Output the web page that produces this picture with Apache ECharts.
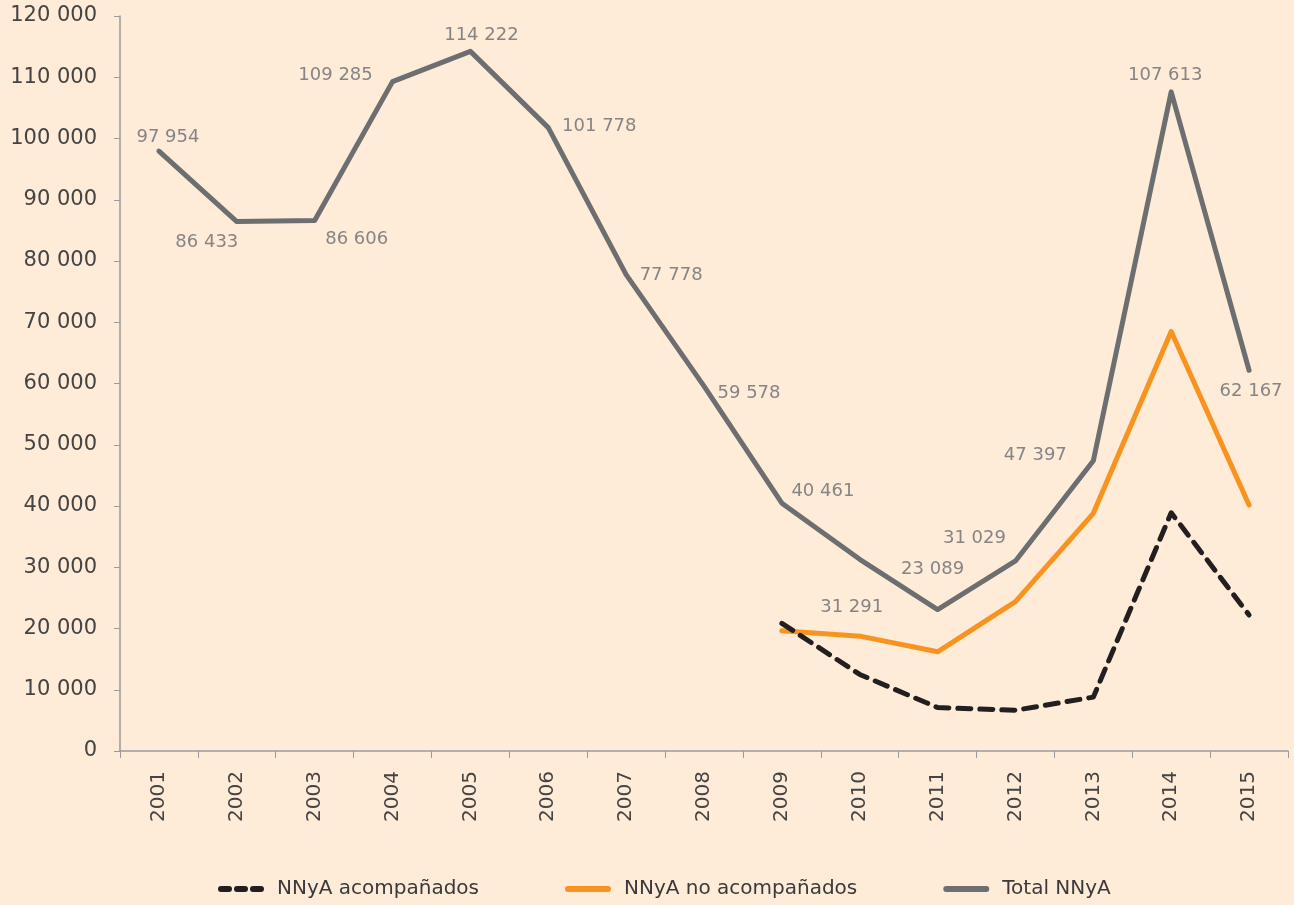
<!DOCTYPE html>
<html>
<head>
<meta charset="utf-8">
<script src="https://cdn.jsdelivr.net/npm/echarts@6/dist/echarts.min.js"></script>
<style>
  html, body { margin: 0; padding: 0; background: #FEEBD8; }
  #chart { width: 1294px; height: 905px; }
</style>
</head>
<body>
<div id="chart"></div>
<script>
  // años
  var years = ['2001','2002','2003','2004','2005','2006','2007','2008','2009','2010','2011','2012','2013','2014','2015'];
  // series
  var acompanados   = [null,null,null,null,null,null,null,null, 20850, 12500, 7100, 6650, 8800, 38900, 22200];
  var noAcompanados = [null,null,null,null,null,null,null,null, 19650, 18750, 16200, 24400, 38800, 68500, 40150];
  var total = [97954, 86433, 86606, 109285, 114222, 101778, 77778, 59578, 40461, 31291, 23089, 31029, 47397, 107613, 62167];
  var yTicks = [0, 120000, 10000]; // min, max, interval

  // desplazamiento de las etiquetas del total (dx, dy)
  var labelOffset = [
    [9, 4], [-30, 38], [42, 36], [-57, 11], [11, 1], [51, 16], [45, 18], [45, 25],
    [41, 6], [-8, 65], [-5, -23], [-41, -5], [-58, 12], [-6, 1], [2, 39]
  ];

  function fmt(v) {
    return String(v).replace(/\B(?=(\d{3})+(?!\d))/g, ' ');
  }

  var dashIcon = 'path://M3,0 h8 a3,3 0 0 1 0,6 h-8 a3,3 0 0 1 0,-6 z M19,0 h8 a3,3 0 0 1 0,6 h-8 a3,3 0 0 1 0,-6 z M35,0 h8 a3,3 0 0 1 0,6 h-8 a3,3 0 0 1 0,-6 z';
  var barIcon = 'path://M3,0 h40 a3,3 0 0 1 0,6 h-40 a3,3 0 0 1 0,-6 z';

  var chart = echarts.init(document.getElementById('chart'));
  var font = 'DejaVu Sans';
  var option = {
    backgroundColor: '#FEEBD8',
    textStyle: { fontFamily: font },
    animation: false,
    grid: { left: 120, right: 6, top: 16, bottom: 154, containLabel: false },
    legend: {
      top: 874,
      left: 213,
      itemWidth: 46,
      itemHeight: 6,
      itemGap: 86,
      textStyle: { fontSize: 20, color: '#3a3a3a', fontFamily: font, padding: [0, 0, 0, 8] },
      data: [
        { name: 'NNyA acompañados', icon: dashIcon },
        { name: 'NNyA no acompañados', icon: barIcon },
        { name: 'Total NNyA', icon: barIcon }
      ]
    },
    xAxis: {
      type: 'category',
      data: years,
      boundaryGap: true,
      axisLine: { lineStyle: { color: '#9a9a9a', width: 1.5 } },
      axisTick: { show: true, length: 7, lineStyle: { color: '#9a9a9a' } },
      axisLabel: { rotate: 90, margin: 20, fontSize: 20, color: '#444', fontFamily: font }
    },
    yAxis: {
      type: 'value',
      min: yTicks[0],
      max: yTicks[1],
      interval: yTicks[2],
      axisLine: { show: true, lineStyle: { color: '#9a9a9a', width: 1.5 } },
      axisTick: { show: true, length: 6, lineStyle: { color: '#9a9a9a' } },
      splitLine: { show: false },
      axisLabel: { margin: 23, fontSize: 21, color: '#444', fontFamily: font, formatter: fmt }
    },
    series: [
      {
        name: 'NNyA acompañados',
        type: 'line',
        data: acompanados,
        symbol: 'none',
        itemStyle: { color: '#231F20' },
        lineStyle: { color: '#231F20', width: 5, type: [13, 9], cap: 'round', join: 'round' },
        z: 3
      },
      {
        name: 'NNyA no acompañados',
        type: 'line',
        data: noAcompanados,
        symbol: 'none',
        itemStyle: { color: '#F7931E' },
        lineStyle: { color: '#F7931E', width: 5, cap: 'round', join: 'round' },
        z: 2
      },
      {
        name: 'Total NNyA',
        type: 'line',
        data: total,
        symbol: 'circle',
        symbolSize: 1,
        showSymbol: true,
        itemStyle: { color: '#6D6E70' },
        lineStyle: { color: '#6D6E70', width: 5, cap: 'round', join: 'round' },
        label: {
          show: true,
          position: 'top',
          distance: 8,
          fontSize: 18,
          color: '#858585',
          fontFamily: font,
          formatter: function (p) { return fmt(p.value); }
        },
        labelLayout: function (params) {
          var o = labelOffset[params.dataIndex];
          return { dx: o[0], dy: o[1], hideOverlap: false };
        },
        z: 2
      }
    ]
  };
  chart.setOption(option);
</script>
</body>
</html>
